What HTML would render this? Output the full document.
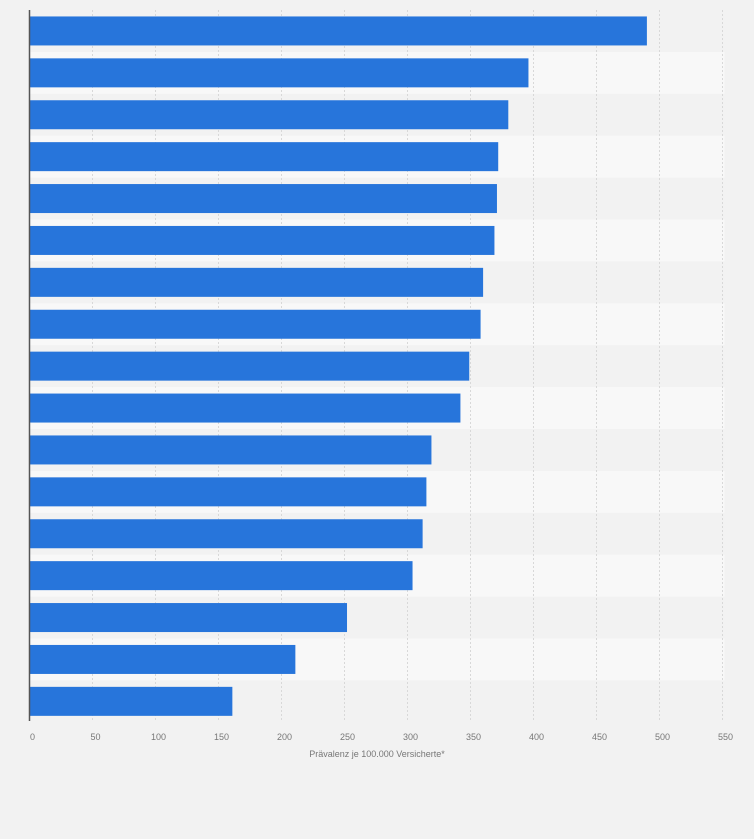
<!DOCTYPE html>
<html><head><meta charset="utf-8"><style>
body{margin:0;background:#f2f2f2;}
svg{display:block;font-family:"Liberation Sans",sans-serif;}
</style></head><body>
<svg id="chart" width="754" height="839" viewBox="0 0 754 839">
<rect x="0" y="0" width="754" height="839" fill="#f2f2f2"/>
<g id="bands"></g><g id="grid"></g><g id="bars"></g><g id="ticks"></g>
<line x1="29.5" y1="10" x2="29.5" y2="721" stroke="#555" stroke-width="1.5"/>
<text x="377" y="757" font-size="9" fill="#777" text-anchor="middle">Prävalenz je 100.000 Versicherte*</text>
</svg>
<script>
const categories=["c1","c2","c3","c4","c5","c6","c7","c8","c9","c10","c11","c12","c13","c14","c15","c16","c17"];
const values=[490,396,380,372,371,369,360,358,349,342,319,315,312,304,252,211,161];
const tickLabels=[0,50,100,150,200,250,300,350,400,450,500,550];
const NS="http://www.w3.org/2000/svg";
const plotX0=29.5,xMax=550,pxW=693,plotTop=10,rowH=41.9,barH=29;
const xs=v=>plotX0+v/xMax*pxW;
function mk(t,a,p){const e=document.createElementNS(NS,t);for(const k in a)e.setAttribute(k,a[k]);p.appendChild(e);return e;}
const gBands=document.getElementById('bands'),gGrid=document.getElementById('grid'),gBars=document.getElementById('bars'),gTicks=document.getElementById('ticks');
categories.forEach((c,i)=>{
 if(i%2===1){const b=mk('rect',{x:plotX0,y:plotTop+i*rowH,width:xs(xMax)-plotX0+2,height:rowH,fill:'#f8f8f8'},gBands);
 
 }
});
tickLabels.forEach(t=>{
 if(t>0){const l=mk('line',{x1:xs(t),y1:plotTop,x2:xs(t),y2:721,stroke:'#d8d8d8','stroke-dasharray':'2,2'},gGrid);
 
 }
 const tx=mk('text',{x:xs(t)+3,y:740,'font-size':9,fill:'#777','text-anchor':'middle'},gTicks);
 tx.textContent=t;
 
 
});
values.forEach((v,i)=>{
 const r=mk('rect',{x:plotX0,y:plotTop+i*rowH+(rowH-barH)/2,width:xs(v)-plotX0,height:barH,fill:'#2775db'},gBars);
 
 
});
</script>
</body></html>
